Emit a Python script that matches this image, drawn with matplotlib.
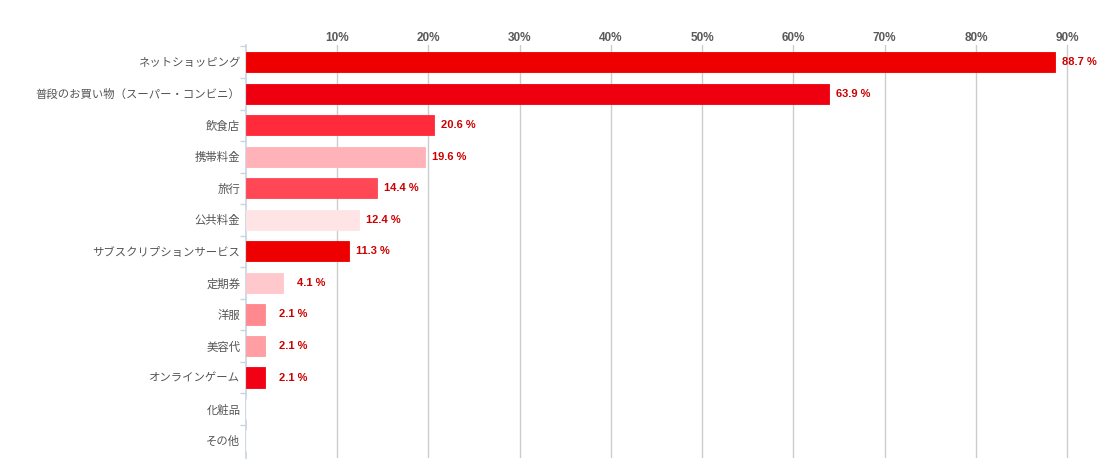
import numpy as np
import matplotlib.pyplot as plt
from matplotlib.ticker import FixedLocator

plt.rcParams['font.family'] = ['Noto Sans CJK JP', 'DejaVu Sans']

categories = ['ネットショッピング', '普段のお買い物（スーパー・コンビニ）', '飲食店', '携帯料金',
              '旅行', '公共料金', 'サブスクリプションサービス', '定期券', '洋服', '美容代',
              'オンラインゲーム', '化粧品', 'その他']
values = [88.7, 63.9, 20.6, 19.6, 14.4, 12.4, 11.3, 4.1, 2.1, 2.1, 2.1, 0, 0]
colors = ['#ee0000', '#ee0011', '#ff2a3a', '#ffb3b8', '#ff4756', '#ffe4e6', '#ee0000',
          '#ffc8cc', '#ff898f', '#ff9ea3', '#f20014', '#ffffff', '#ffffff']
xticks = [10, 20, 30, 40, 50, 60, 70, 80, 90]

fig = plt.figure(figsize=(11.05, 4.63), dpi=100)
ax = fig.add_axes([0.2226, 0.011, 0.7638, 0.892])

y = np.arange(len(categories))
ax.barh(y, values, height=0.64, color=colors, edgecolor=colors, linewidth=0.6, zorder=3)

for yi, v in zip(y, values):
    if v > 0:
        ax.annotate(f'{v} %', (v, yi), xytext=(5 if v > 10 else 10, 0), textcoords='offset points',
                    va='center', ha='left', fontsize=8, fontweight='bold', color='#cc0000',
                    family='Liberation Sans')

ax.set_xlim(0, 92.5)
ax.set_ylim(12.55, -0.55)
ax.xaxis.tick_top()
ax.set_xticks(xticks)
ax.set_xticklabels([f'{t}%' for t in xticks], fontsize=8.5, fontweight='bold', color='#5a5a5a',
                   family='Liberation Sans')
ax.tick_params(axis='x', length=0, pad=1)
ax.grid(axis='x', color='#cccccc', linewidth=1, zorder=0)

ax.set_yticks(y)
ax.set_yticklabels(categories, fontsize=8.2, color='#555555')
ax.tick_params(axis='y', which='major', length=0, pad=4)
ax.yaxis.set_minor_locator(FixedLocator(np.arange(-0.5, 12.5, 1)))
ax.tick_params(axis='y', which='minor', length=4, color='#c8d4e0', width=1)

for s in ['top', 'right', 'bottom']:
    ax.spines[s].set_visible(False)
ax.spines['left'].set_color('#c8d4e0')
ax.spines['left'].set_linewidth(1.2)

fig.savefig('out.png', dpi=100)
